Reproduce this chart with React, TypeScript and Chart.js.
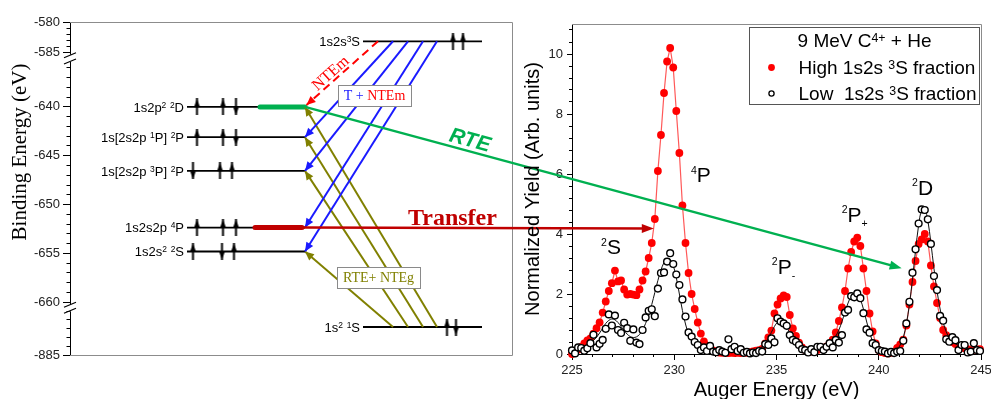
import React, { useEffect, useRef } from 'react';
import { Chart, registerables } from 'chart.js';

Chart.register(...registerables);

const SANS = "'Liberation Sans', Arial, Helvetica, sans-serif";
const SERIF = "'Liberation Serif', 'Times New Roman', Times, serif";

/* ---------------- Right panel: Auger spectrum ---------------- */
const augerEnergy = [
  225.00, 225.15, 225.30, 225.45, 225.60, 225.75, 225.90, 226.05, 226.20, 226.35,
  226.50, 226.65, 226.80, 226.95, 227.10, 227.25, 227.40, 227.55, 227.70, 227.85,
  228.00, 228.15, 228.30, 228.45, 228.60, 228.75, 228.90, 229.05, 229.20, 229.35,
  229.50, 229.65, 229.80, 229.95, 230.10, 230.25, 230.40, 230.55, 230.70, 230.85,
  231.00, 231.15, 231.30, 231.45, 231.60, 231.75, 231.90, 232.05, 232.20, 232.35,
  232.50, 232.65, 232.80, 232.95, 233.10, 233.25, 233.40, 233.55, 233.70, 233.85,
  234.00, 234.15, 234.30, 234.45, 234.60, 234.75, 234.90, 235.05, 235.20, 235.35,
  235.50, 235.65, 235.80, 235.95, 236.10, 236.25, 236.40, 236.55, 236.70, 236.85,
  237.00, 237.15, 237.30, 237.45, 237.60, 237.75, 237.90, 238.05, 238.20, 238.35,
  238.50, 238.65, 238.80, 238.95, 239.10, 239.25, 239.40, 239.55, 239.70, 239.85,
  240.00, 240.15, 240.30, 240.45, 240.60, 240.75, 240.90, 241.05, 241.20, 241.35,
  241.50, 241.65, 241.80, 241.95, 242.10, 242.25, 242.40, 242.55, 242.70, 242.85,
  243.00, 243.15, 243.30, 243.45, 243.60, 243.75, 243.90, 244.05, 244.20, 244.35,
  244.50, 244.65, 244.80, 244.95,
];
const yieldHigh3S = [
  0.00, 0.08, 0.15, 0.24, 0.35, 0.45, 0.52, 0.68, 0.86, 1.05,
  1.38, 1.75, 2.10, 2.36, 2.78, 2.42, 2.45, 2.15, 1.98, 2.00,
  1.98, 1.96, 2.15, 2.45, 2.75, 3.20, 3.70, 4.50, 6.10, 7.30,
  8.70, 9.75, 10.20, 9.55, 8.10, 6.70, 4.95, 3.70, 2.70, 2.00,
  1.50, 1.05, 0.68, 0.42, 0.28, 0.18, 0.12, 0.08, 0.05, 0.04,
  0.04, 0.03, 0.04, 0.03, 0.04, 0.03, 0.05, 0.04, 0.06, 0.09,
  0.11, 0.13, 0.17, 0.35, 0.55, 0.78, 1.35, 1.65, 1.85, 1.95,
  1.90, 1.30, 0.85, 0.60, 0.38, 0.22, 0.13, 0.08, 0.08, 0.10,
  0.13, 0.18, 0.20, 0.25, 0.32, 0.48, 0.72, 1.10, 1.55, 2.10,
  2.85, 3.40, 3.75, 3.88, 3.60, 2.85, 2.10, 1.35, 0.75, 0.35,
  0.13, 0.06, 0.03, 0.02, 0.04, 0.08, 0.20, 0.32, 0.48, 0.95,
  1.65, 2.40, 3.10, 3.67, 3.82, 4.00, 3.75, 2.95, 2.25, 1.70,
  1.20, 0.80, 0.63, 0.50, 0.40, 0.33, 0.27, 0.22, 0.19, 0.16,
  0.13, 0.14, 0.15, 0.16,
];
const yieldLow3S = [
  0.12, 0.02, 0.22, 0.20, 0.11, 0.19, 0.36, 0.64, 0.22, 0.34,
  0.47, 0.84, 1.32, 0.95, 1.28, 0.80, 0.70, 1.04, 0.86, 0.44,
  0.82, 0.38, 0.33, 0.80, 1.22, 1.44, 1.49, 1.26, 2.18, 2.70,
  2.72, 3.08, 3.36, 3.00, 2.65, 2.30, 1.82, 1.25, 0.72, 0.58,
  0.40, 0.30, 0.13, 0.22, 0.10, 0.27, 0.08, 0.06, 0.13, 0.08,
  0.04, 0.49, 0.16, 0.24, 0.10, 0.16, 0.04, 0.07, 0.02, 0.05,
  0.03, 0.10, 0.08, 0.33, 0.30, 0.52, 0.39, 1.19, 1.08, 1.02,
  0.94, 0.63, 0.47, 0.41, 0.30, 0.16, 0.13, 0.05, 0.16, 0.06,
  0.24, 0.24, 0.13, 0.24, 0.36, 0.22, 0.47, 0.38, 0.63, 1.38,
  1.47, 1.93, 1.89, 2.02, 1.86, 1.36, 0.82, 0.71, 0.36, 0.30,
  0.13, 0.10, 0.08, 0.02, 0.07, 0.03, 0.08, 0.10, 0.44, 1.02,
  1.74, 2.71, 3.49, 4.35, 4.82, 4.80, 4.49, 3.67, 2.60, 2.13,
  1.27, 1.11, 0.49, 0.41, 0.56, 0.46, 0.13, 0.30, 0.30, 0.05,
  0.08, 0.36, 0.13, 0.10,
];
const yieldLow3SFit = [
  0.05, 0.08, 0.12, 0.17, 0.22, 0.28, 0.36, 0.45, 0.56, 0.70,
  0.86, 1.02, 1.12, 1.17, 1.14, 1.05, 0.92, 0.78, 0.66, 0.58,
  0.55, 0.57, 0.65, 0.80, 1.02, 1.30, 1.65, 2.05, 2.45, 2.80,
  3.05, 3.18, 3.15, 2.95, 2.55, 2.00, 1.45, 1.00, 0.66, 0.45,
  0.32, 0.23, 0.17, 0.13, 0.10, 0.08, 0.07, 0.06, 0.06, 0.06,
  0.06, 0.06, 0.06, 0.06, 0.06, 0.06, 0.06, 0.06, 0.07, 0.09,
  0.12, 0.17, 0.25, 0.36, 0.52, 0.72, 0.92, 1.06, 1.10, 1.04,
  0.90, 0.70, 0.50, 0.34, 0.22, 0.15, 0.11, 0.10, 0.11, 0.13,
  0.15, 0.18, 0.22, 0.28, 0.36, 0.46, 0.60, 0.80, 1.08, 1.40,
  1.70, 1.92, 2.02, 2.00, 1.82, 1.50, 1.10, 0.72, 0.42, 0.22,
  0.12, 0.06, 0.04, 0.03, 0.04, 0.07, 0.15, 0.30, 0.55, 1.00,
  1.65, 2.50, 3.45, 4.30, 4.80, 4.82, 4.45, 3.70, 2.85, 2.10,
  1.50, 1.05, 0.74, 0.54, 0.42, 0.34, 0.28, 0.24, 0.21, 0.18,
  0.16, 0.15, 0.14, 0.14,
];
const energyTicks = [225, 230, 235, 240, 245];
const energyMinorTicks = [226, 227, 228, 229, 231, 232, 233, 234, 236, 237, 238, 239, 241, 242, 243, 244];
const yieldTicks = [0, 2, 4, 6, 8, 10];
const yieldMinorTicks = [0.4, 0.8, 1.2, 1.6, 2.4, 2.8, 3.2, 3.6, 4.4, 4.8, 5.2, 5.6, 6.4, 6.8, 7.2, 7.6, 8.4, 8.8, 9.2, 9.6, 10.4, 10.8];
const peakNames = ['^{2}S', '^{4}P', '^{2}P_{-}', '^{2}P_{+}', '^{2}D'];
const peakLabelX = [226.42, 230.82, 234.77, 238.19, 241.63];
const peakLabelY = [3.33, 5.73, 2.67, 4.41, 5.30];
const legendTitle = '9 MeV C^{4+} + He';
const seriesNames = ['High 1s2s ^{3}S fraction', 'Low  1s2s ^{3}S fraction'];

/* ---------------- Left panel: level scheme ---------------- */
const levelNames = ['1s2s^{3}S', '1s2p^{2} ^{2}D', '1s[2s2p ^{1}P] ^{2}P', '1s[2s2p ^{3}P] ^{2}P', '1s2s2p ^{4}P', '1s2s^{2} ^{2}S', '1s^{2} ^{1}S'];
const levelEnergy = [-583.14, -640.0, -643.1, -646.55, -652.35, -654.8, -765.5];
const levelFromX = [293, 117, 117, 117, 117, 117, 293];
const levelToX = [412, 235, 235, 235, 235, 235, 412];
const bindingTicks = [-885, -660, -655, -650, -645, -640, -585, -580];
const bindingMinorTicks = [-847.5, -810, -772.5, -735, -697.5, -659, -658, -657, -656, -654, -653, -652, -651, -649, -648, -647, -646, -644, -643, -642, -641, -639, -638, -637, -636, -584, -583, -582, -581];
const spinLevel = [0, 0, 1, 1, 1, 2, 2, 2, 3, 3, 3, 4, 4, 4, 5, 5, 5, 6, 6];
const spinX = [383, 393, 127, 153, 166, 127, 153, 166, 123, 150, 162, 127, 153, 166, 123, 152, 164, 377, 386];
const spinDir = [1, 1, 1, 1, -1, 1, 1, -1, -1, 1, 1, 1, 1, 1, 1, -1, 1, 1, -1];
const captureFromX = [323, 338, 353, 367];
const captureTo = [2, 3, 4, 5];
const excitationFromX = [323, 338, 353, 367];
const excitationTo = [5, 3, 2, 1];
const ntemFromX = 308;
const ntemTip = [236.5, -639.8];
const tipX = 235;
const rteHighlight = [190, 235];
const transferHighlight = [185, 232];
const rteTarget = [241.12, 2.86];
const transferTarget = [229.0, 4.18];

/* broken binding-energy axis: energy -> axis units */
const U = (E: number): number => {
  if (E >= -600) return 302.3 + (E + 585) * 6.14;
  if (E >= -660) return 52.7 + (E + 660) * 9.77;
  return (E + 885) * (52.7 / 225);
};

type Seg = { t: string; sup?: boolean; sub?: boolean };
function parseRich(s: string): Seg[] {
  const out: Seg[] = [];
  let buf = '';
  let i = 0;
  while (i < s.length) {
    if ((s[i] === '^' || s[i] === '_') && s[i + 1] === '{') {
      if (buf) { out.push({ t: buf }); buf = ''; }
      const end = s.indexOf('}', i);
      out.push({ t: s.slice(i + 2, end), sup: s[i] === '^', sub: s[i] === '_' });
      i = end + 1;
    } else { buf += s[i]; i++; }
  }
  if (buf) out.push({ t: buf });
  return out;
}
type RichOpts = { size: number; family: string; color: string; weight?: string; style?: string; align?: string; supScale?: number };
const fontStr = (size: number, o: RichOpts) => `${o.style || 'normal'} ${o.weight || 'normal'} ${size}px ${o.family}`;
function drawRich(ctx: CanvasRenderingContext2D, text: string, x: number, y: number, o: RichOpts) {
  const segs = parseRich(text);
  const S = o.size;
  const s = S * (o.supScale ?? 0.65);
  ctx.save();
  ctx.fillStyle = o.color;
  ctx.textBaseline = 'alphabetic';
  ctx.textAlign = 'left';
  const widths = segs.map((g) => { ctx.font = fontStr(g.sup || g.sub ? s : S, o); return ctx.measureText(g.t).width; });
  const total = widths.reduce((a, b) => a + b, 0);
  let cx = o.align === 'center' ? x - total / 2 : o.align === 'right' ? x - total : x;
  segs.forEach((g, i) => {
    ctx.font = fontStr(g.sup || g.sub ? s : S, o);
    const dy = g.sup ? -(0.716 * (S - s) + 0.05 * S) : g.sub ? 0.25 * S : 0;
    ctx.fillText(g.t, cx, y + dy);
    cx += widths[i];
  });
  ctx.restore();
}
function arrowHead(ctx: CanvasRenderingContext2D, x0: number, y0: number, x1: number, y1: number, color: string, len = 9, half = 4) {
  const a = Math.atan2(y1 - y0, x1 - x0);
  const c = Math.cos(a), s = Math.sin(a);
  ctx.save();
  ctx.fillStyle = color;
  ctx.beginPath();
  ctx.moveTo(x1, y1);
  ctx.lineTo(x1 - len * c + half * s, y1 - len * s - half * c);
  ctx.lineTo(x1 - len * c - half * s, y1 - len * s + half * c);
  ctx.closePath();
  ctx.fill();
  ctx.restore();
}
function labelBox(ctx: CanvasRenderingContext2D, cx: number, cy: number, w: number, h: number, parts: string[][], size: number) {
  ctx.save();
  const l = Math.round(cx - w / 2) + 0.5, t = Math.round(cy - h / 2) + 0.5;
  ctx.fillStyle = '#fff';
  ctx.fillRect(l, t, w, h);
  ctx.strokeStyle = '#8a8a8a';
  ctx.lineWidth = 1;
  ctx.strokeRect(l, t, w, h);
  ctx.font = `${size}px ${SERIF}`;
  ctx.textBaseline = 'alphabetic';
  const total = parts.reduce((a, p) => a + ctx.measureText(p[0]).width, 0);
  let x = cx - total / 2;
  parts.forEach((p) => { ctx.fillStyle = p[1]; ctx.fillText(p[0], x, cy + size * 0.33); x += ctx.measureText(p[0]).width; });
  ctx.restore();
}
function makeSpin(up: boolean): HTMLCanvasElement {
  const c = document.createElement('canvas');
  c.width = 7; c.height = 17;
  const g = c.getContext('2d') as CanvasRenderingContext2D;
  g.fillStyle = '#000';
  g.fillRect(2.5, 0, 2, 17);
  g.beginPath();
  if (up) { g.moveTo(3.5, 0); g.lineTo(6.4, 8.5); g.lineTo(0.6, 8.5); }
  else { g.moveTo(3.5, 17); g.lineTo(6.4, 8.5); g.lineTo(0.6, 8.5); }
  g.closePath();
  g.fill();
  return c;
}

const BLUE = '#1a1aff';
const OLIVE = '#808000';
const GREEN = '#00b050';
const DARKRED = '#c00000';

export default function App() {
  const refA = useRef<HTMLCanvasElement>(null);
  const refB = useRef<HTMLCanvasElement>(null);

  useEffect(() => {
    const pt = (x: number, E: number) => ({ x, y: U(E) });
    const axA = { xAxisID: 'xL', yAxisID: 'yL', pointRadius: 0, clip: false as any };
    const dsA: any[] = [];
    levelEnergy.forEach((E, i) => {
      dsA.push({ ...axA, data: [pt(levelFromX[i], E), pt(levelToX[i], E)], borderColor: '#000', borderWidth: 1.8, order: 6 });
    });
    dsA.push({ ...axA, data: [pt(rteHighlight[0], levelEnergy[1]), pt(rteHighlight[1], levelEnergy[1])], borderColor: GREEN, borderWidth: 5, borderCapStyle: 'round', order: 5 });
    dsA.push({ ...axA, data: [pt(transferHighlight[0], levelEnergy[4]), pt(transferHighlight[1], levelEnergy[4])], borderColor: DARKRED, borderWidth: 5, borderCapStyle: 'round', order: 5 });
    captureFromX.forEach((x, k) => {
      dsA.push({ ...axA, data: [pt(x, levelEnergy[0]), pt(tipX, levelEnergy[captureTo[k]])], borderColor: BLUE, borderWidth: 2, order: 3, arrowHead: true });
    });
    excitationFromX.forEach((x, k) => {
      dsA.push({ ...axA, data: [pt(x, levelEnergy[6]), pt(tipX, levelEnergy[excitationTo[k]])], borderColor: OLIVE, borderWidth: 2, order: 3, arrowHead: true });
    });
    dsA.push({ ...axA, data: [pt(ntemFromX, levelEnergy[0]), pt(ntemTip[0], ntemTip[1])], borderColor: '#ff0000', borderWidth: 2, borderDash: [8, 5], order: 3, arrowHead: true });
    const upImg = makeSpin(true), downImg = makeSpin(false);
    dsA.push({
      ...axA,
      showLine: false,
      data: spinX.map((x, i) => pt(x, levelEnergy[spinLevel[i]])),
      pointRadius: 4,
      pointStyle: spinDir.map((d) => (d > 0 ? upImg : downImg)),
      order: 1,
    });

    const arrowPlugin = {
      id: 'arrowHeads',
      afterDatasetsDraw(chart: any) {
        const ctx = chart.ctx;
        chart.data.datasets.forEach((ds: any, i: number) => {
          if (!ds.arrowHead) return;
          const pts = chart.getDatasetMeta(i).data;
          const a = pts[pts.length - 2], b = pts[pts.length - 1];
          arrowHead(ctx, a.x, a.y, b.x, b.y, ds.borderColor, 9, 4);
        });
      },
    };
    const frameA = {
      id: 'frameA',
      beforeDatasetsDraw(chart: any) {
        const ctx = chart.ctx;
        const ca = chart.chartArea;
        const ys = chart.scales.yL;
        ctx.save();
        ctx.strokeStyle = '#8c8c8c';
        ctx.lineWidth = 1;
        ctx.beginPath();
        const t = Math.round(ca.top) + 0.5, b = Math.round(ca.bottom) + 0.5, r = Math.round(ca.right) + 0.5, l = Math.round(ca.left);
        ctx.moveTo(l, t); ctx.lineTo(r, t); ctx.lineTo(r, b); ctx.lineTo(l, b);
        ctx.stroke();
        const x = ca.left;
        const gaps = [[ys.getPixelForValue(U(-585)) + 2, ys.getPixelForValue(U(-635.5)) - 1], [ys.getPixelForValue(U(-660)) + 2, ys.getPixelForValue(U(-660)) + 9]];
        gaps.forEach(([g0, g1]) => {
          ctx.fillStyle = '#fff';
          ctx.fillRect(x - 2, g0, 4, g1 - g0);
          ctx.strokeStyle = '#000';
          ctx.lineWidth = 1.2;
          ctx.beginPath();
          ctx.moveTo(x - 6, g0 + 3); ctx.lineTo(x + 6, g0 - 2);
          ctx.moveTo(x - 6, g1 + 2); ctx.lineTo(x + 6, g1 - 3);
          ctx.stroke();
        });
        ctx.restore();
      },
    };
    const textA = {
      id: 'textA',
      afterDatasetsDraw(chart: any) {
        const ctx = chart.ctx;
        const xs = chart.scales.xL, ys = chart.scales.yL, ca = chart.chartArea;
        levelNames.forEach((name, i) => {
          const px = xs.getPixelForValue(levelFromX[i]) - 3;
          const py = ys.getPixelForValue(U(levelEnergy[i]));
          drawRich(ctx, name, px, py + 4.7, { size: 13, family: SANS, color: '#000', align: 'right' });
        });
        const p0x = xs.getPixelForValue(ntemFromX), p0y = ys.getPixelForValue(U(levelEnergy[0]));
        const p1x = xs.getPixelForValue(ntemTip[0]), p1y = ys.getPixelForValue(U(ntemTip[1]));
        const ang = Math.atan2(p0y - p1y, p0x - p1x);
        ctx.save();
        ctx.translate(xs.getPixelForValue(260), ys.getPixelForValue(U(-636.5)));
        ctx.rotate(ang);
        drawRich(ctx, 'NTEm', 0, 5.5, { size: 16, family: SERIF, color: '#ff0000', align: 'center' });
        ctx.restore();
        labelBox(ctx, xs.getPixelForValue(304.5), ys.getPixelForValue(U(-638.83)), 73, 21, [['T + ', BLUE], ['NTEm', '#ff0000']], 14);
        labelBox(ctx, xs.getPixelForValue(308.5), ys.getPixelForValue(U(-657.46)), 83, 21, [['RTE+ NTEg', OLIVE]], 14);
        ctx.save();
        ctx.translate(ca.left - 51, ca.top + 130);
        ctx.rotate(-Math.PI / 2);
        drawRich(ctx, 'Binding Energy (eV)', 0, 7, { size: 21, family: SERIF, color: '#000', align: 'center' });
        ctx.restore();
      },
    };

    const chartA = new Chart(refA.current as HTMLCanvasElement, {
      type: 'line',
      data: { datasets: dsA },
      options: {
        animation: false,
        responsive: false,
        events: [],
        layout: { padding: { left: 0, right: 479, top: 22, bottom: 44 } },
        plugins: { legend: { display: false }, tooltip: { enabled: false } },
        scales: {
          xL: { type: 'linear', min: 0, max: 442, display: false },
          yL: {
            type: 'linear', position: 'left', min: 0, max: 333, weight: 10,
            afterBuildTicks: (s: any) => { s.ticks = bindingTicks.map((E) => ({ value: U(E) })); },
            afterFit: (s: any) => { s.width = 70; s.paddingTop = 0; s.paddingBottom = 0; },
            ticks: { autoSkip: false, padding: 3, color: '#222', font: { family: SANS, size: 13 }, callback: (_v: any, i: number) => String(bindingTicks[i]) },
            grid: { drawOnChartArea: false, tickLength: 7, color: '#000' },
            border: { display: true, color: '#000', width: 1 },
          },
          yLm: {
            type: 'linear', position: 'left', min: 0, max: 333, weight: 0,
            afterBuildTicks: (s: any) => { s.ticks = bindingMinorTicks.map((E) => ({ value: U(E) })); },
            afterFit: (s: any) => { s.width = 0; s.paddingTop = 0; s.paddingBottom = 0; },
            ticks: { display: false, autoSkip: false },
            grid: { drawOnChartArea: false, tickLength: 3.5, color: '#000' },
            border: { display: false },
          },
        } as any,
      },
      plugins: [frameA, arrowPlugin, textA],
    } as any);

    /* ---------------- right chart ---------------- */
    const highData = augerEnergy.map((x, i) => ({ x, y: yieldHigh3S[i] }));
    const lowData = augerEnergy.map((x, i) => ({ x, y: yieldLow3S[i] }));
    const fitData = augerEnergy.map((x, i) => ({ x, y: yieldLow3SFit[i] }));

    const connectors = {
      id: 'connectors',
      afterDatasetsDraw(chart: any) {
        const ctx = chart.ctx;
        const ax = chartA.scales.xL as any, ay = chartA.scales.yL as any;
        const bx = chart.scales.x, by = chart.scales.y;
        const gx0 = ax.getPixelForValue(tipX), gy0 = ay.getPixelForValue(U(levelEnergy[1]));
        const gx1 = bx.getPixelForValue(rteTarget[0]), gy1 = by.getPixelForValue(rteTarget[1]);
        const ga = Math.atan2(gy1 - gy0, gx1 - gx0);
        ctx.save();
        ctx.strokeStyle = GREEN; ctx.lineWidth = 2.5;
        ctx.beginPath(); ctx.moveTo(gx0, gy0); ctx.lineTo(gx1 - 6 * Math.cos(ga), gy1 - 6 * Math.sin(ga)); ctx.stroke();
        arrowHead(ctx, gx0, gy0, gx1, gy1, GREEN, 12, 4.5);
        const along = 168;
        const lx = gx0 + along * Math.cos(ga) + 12 * Math.sin(ga);
        const ly = gy0 + along * Math.sin(ga) - 12 * Math.cos(ga);
        ctx.translate(lx, ly); ctx.rotate(ga);
        drawRich(ctx, 'RTE', 0, 7.5, { size: 21, family: SANS, color: GREEN, weight: 'bold', style: 'italic', align: 'center' });
        ctx.restore();
        const tx0 = ax.getPixelForValue(transferHighlight[1]), ty0 = ay.getPixelForValue(U(levelEnergy[4]));
        const tx1 = bx.getPixelForValue(transferTarget[0]), ty1 = by.getPixelForValue(transferTarget[1]);
        ctx.save();
        ctx.strokeStyle = DARKRED; ctx.lineWidth = 2.5;
        ctx.beginPath(); ctx.moveTo(tx0, ty0); ctx.lineTo(tx1 - 6, ty1); ctx.stroke();
        arrowHead(ctx, tx0, ty0, tx1, ty1, DARKRED, 12, 4.5);
        drawRich(ctx, 'Transfer', tx0 + 106, ty0 - 3, { size: 24, family: SERIF, color: DARKRED, weight: 'bold' });
        ctx.restore();
      },
    };
    const frameB = {
      id: 'frameB',
      beforeDatasetsDraw(chart: any) {
        const ctx = chart.ctx;
        const ca = chart.chartArea;
        ctx.save();
        ctx.strokeStyle = '#8c8c8c';
        ctx.lineWidth = 1;
        ctx.beginPath();
        const t = Math.round(ca.top) + 0.5, r = Math.round(ca.right) + 0.5;
        ctx.moveTo(ca.left, t); ctx.lineTo(r, t); ctx.lineTo(r, ca.bottom);
        ctx.stroke();
        ctx.restore();
      },
    };
    const textB = {
      id: 'textB',
      afterDraw(chart: any) {
        const ctx = chart.ctx;
        const ca = chart.chartArea;
        const xs = chart.scales.x, ys = chart.scales.y;
        peakNames.forEach((n, i) => {
          drawRich(ctx, n, xs.getPixelForValue(peakLabelX[i]), ys.getPixelForValue(peakLabelY[i]), { size: 21, family: SANS, color: '#000', supScale: 0.5 });
        });
        ctx.save();
        ctx.translate(ca.left - 40, (ca.top + ca.bottom) / 2);
        ctx.rotate(-Math.PI / 2);
        drawRich(ctx, 'Normalized Yield (Arb. units)', 0, 7, { size: 20, family: SANS, color: '#000', align: 'center' });
        ctx.restore();
        drawRich(ctx, 'Auger Energy (eV)', (ca.left + ca.right) / 2, ca.bottom + 42, { size: 20, family: SANS, color: '#000', align: 'center' });
        const bw = 230, bh = 77;
        const bx = Math.round(ca.right - 232) + 0.5, by = Math.round(ca.top + 3) + 0.5;
        ctx.save();
        ctx.fillStyle = '#fff'; ctx.fillRect(bx, by, bw, bh);
        ctx.strokeStyle = '#555'; ctx.lineWidth = 1; ctx.strokeRect(bx, by, bw, bh);
        drawRich(ctx, legendTitle, bx + bw / 2, by + 19.8, { size: 19, family: SANS, color: '#000', align: 'center' });
        ctx.fillStyle = '#ff0000';
        ctx.beginPath(); ctx.arc(bx + 22, by + 40, 3.4, 0, Math.PI * 2); ctx.fill();
        ctx.fillStyle = '#fff'; ctx.strokeStyle = '#000'; ctx.lineWidth = 1.3;
        ctx.beginPath(); ctx.arc(bx + 22, by + 66, 2.6, 0, Math.PI * 2); ctx.fill(); ctx.stroke();
        drawRich(ctx, seriesNames[0], bx + 49, by + 46.8, { size: 19, family: SANS, color: '#000' });
        drawRich(ctx, seriesNames[1], bx + 49, by + 72.8, { size: 19, family: SANS, color: '#000' });
        ctx.restore();
      },
    };

    const chartB = new Chart(refB.current as HTMLCanvasElement, {
      type: 'line',
      data: {
        datasets: [
          { label: seriesNames[1], data: lowData, showLine: false, pointRadius: 3.4, pointBackgroundColor: '#fff', pointBorderColor: '#000', pointBorderWidth: 1.4, order: 0, clip: false },
          { label: 'fit', data: fitData, borderColor: '#111', borderWidth: 1, pointRadius: 0, tension: 0.35, order: 1, clip: false },
          { label: seriesNames[0], data: highData, borderColor: 'rgba(255,70,70,0.9)', borderWidth: 1.2, pointRadius: 3.9, pointBackgroundColor: '#ff0000', pointBorderWidth: 0, pointBorderColor: '#ff0000', order: 2, clip: false },
        ] as any,
      },
      options: {
        animation: false,
        responsive: false,
        events: [],
        layout: { padding: { left: 500, right: 10, top: 24, bottom: 0 } },
        plugins: { legend: { display: false }, tooltip: { enabled: false } },
        scales: {
          x: {
            type: 'linear', position: 'bottom', min: 225, max: 245, weight: 1,
            afterBuildTicks: (s: any) => { s.ticks = energyTicks.map((v) => ({ value: v })); },
            afterFit: (s: any) => { s.height = 45; s.paddingLeft = 0; s.paddingRight = 0; },
            ticks: { autoSkip: false, maxRotation: 0, padding: 3, color: '#222', font: { family: SANS, size: 13 } },
            grid: { drawOnChartArea: false, tickLength: 6, color: '#000' },
            border: { color: '#000' },
          },
          xm: {
            type: 'linear', position: 'bottom', min: 225, max: 245, weight: 0,
            afterBuildTicks: (s: any) => { s.ticks = energyMinorTicks.map((v) => ({ value: v })); },
            afterFit: (s: any) => { s.height = 0; s.paddingLeft = 0; s.paddingRight = 0; },
            ticks: { display: false, autoSkip: false },
            grid: { drawOnChartArea: false, tickLength: 3, color: '#000' },
            border: { display: false },
          },
          y: {
            type: 'linear', position: 'left', min: 0, max: 11, weight: 1,
            afterBuildTicks: (s: any) => { s.ticks = yieldTicks.map((v) => ({ value: v })); },
            afterFit: (s: any) => { s.width = 72; s.paddingTop = 0; s.paddingBottom = 0; },
            ticks: { autoSkip: false, padding: 4, color: '#222', font: { family: SANS, size: 13 } },
            grid: { drawOnChartArea: false, tickLength: 5, color: '#000' },
            border: { color: '#000' },
          },
          ym: {
            type: 'linear', position: 'left', min: 0, max: 11, weight: 0,
            afterBuildTicks: (s: any) => { s.ticks = yieldMinorTicks.map((v) => ({ value: v })); },
            afterFit: (s: any) => { s.width = 0; s.paddingTop = 0; s.paddingBottom = 0; },
            ticks: { display: false, autoSkip: false },
            grid: { drawOnChartArea: false, tickLength: 3, color: '#000' },
            border: { display: false },
          },
        } as any,
      },
      plugins: [frameB, connectors, textB],
    } as any);

    return () => {
      chartB.destroy();
      chartA.destroy();
    };
  }, []);

  return (
    <div style={{ position: 'absolute', left: 0, top: 0, width: 991, height: 399, background: '#fff', overflow: 'hidden' }}>
      <canvas ref={refA} width={991} height={399} style={{ position: 'absolute', left: 0, top: 0 }} />
      <canvas ref={refB} width={991} height={399} style={{ position: 'absolute', left: 0, top: 0 }} />
    </div>
  );
}
